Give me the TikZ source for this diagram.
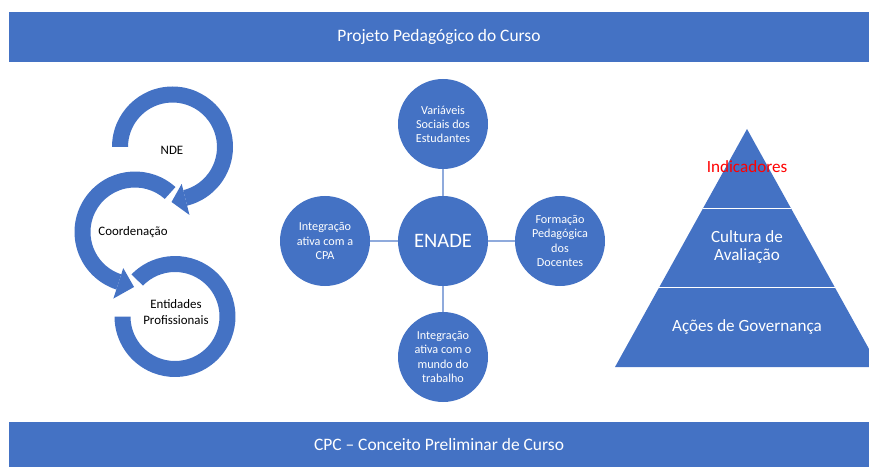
\documentclass[tikz,border=0pt]{standalone}
\usepackage{fontspec}
\setmainfont{Carlito}
\usepackage{tikz}
\usetikzlibrary{calc}
\definecolor{officeblue}{HTML}{4472C4}
\definecolor{linkblue}{HTML}{8FAADC}
\newcommand{\ringband}[3]{ \fill[officeblue] ($(#1)+(#2:60.5)$) arc[start angle=#2, end angle=#3, radius=60.5] -- ($(#1)+(#3:44.5)$) arc[start angle=#3, end angle=#2, radius=44.5] -- cycle;}
\newcommand{\ringhead}[3]{ \fill[officeblue] ($(#1)+(#2:38)$) -- ($(#1)+(#3:55)$) -- ($(#1)+(#2:70)$) -- cycle;}

\begin{document}
\begin{tikzpicture}[x=0.03cm,y=0.03cm,
        banner/.style={fill=officeblue, text=white, minimum width=25.8cm, font=\fontsize{14.9}{17}\selectfont},
        bubble/.style={circle, fill=officeblue, text=white, minimum size=2.7cm, inner sep=0pt, align=center, font=\fontsize{10.4}{12}\selectfont},
        ringtext/.style={align=center, font=\fontsize{11}{13.5}\selectfont},
        pyrtext/.style={align=center, text=white, font=\fontsize{14.6}{15.5}\selectfont},
        link/.style={linkblue, line width=1.2pt}]
        \useasboundingbox (0,0) rectangle (869,467);
        \clip (0,0) rectangle (869,467);

        % banners
        \node[banner, minimum height=1.5cm] (ppc) at (439,430) {Projeto Pedagógico do Curso};
        \node[banner, minimum height=1.35cm] (cpc) at (439,22.5) {CPC -- Conceito Preliminar de Curso};

        % circular arrows
        \coordinate (ndeC) at (172.5,320);
        \coordinate (coordC) at (135,235);
        \coordinate (entC) at (175,150.5);
        \ringband{ndeC}{180}{-76}
        \ringhead{ndeC}{-76}{-91}
        \ringband{coordC}{48}{252}
        \ringhead{coordC}{252}{269}
        \ringband{entC}{136}{-180}
        \node[ringtext] (nde) at (172,317) {NDE};
        \node[ringtext] (coord) at (133,235) {Coordenação};
        \node[ringtext] (ent) at (176,155) {Entidades\\Profissionais};

        % ENADE
        \node[bubble, font=\fontsize{17.5}{20}\selectfont] (enade) at (443,226) {ENADE};
        \node[bubble] (var) at (443,343) {Variáveis\\Sociais dos\\Estudantes};
        \node[bubble] (cpa) at (325,226) {Integração\\ativa com a\\CPA};
        \node[bubble] (form) at (560,226) {Formação\\Pedagógica\\dos\\Docentes};
        \node[bubble] (mundo) at (443,110) {Integração\\ativa com o\\mundo do\\trabalho};
        \draw[link] (enade) -- (var);
        \draw[link] (enade) -- (cpa);
        \draw[link] (enade) -- (form);
        \draw[link] (enade) -- (mundo);

        % pyramid
        \fill[officeblue] (747,338) -- (615,100) -- (879,100) -- cycle;
        \draw[white, line width=0.8pt] (703.2,259) -- (790.8,259);
        \draw[white, line width=0.8pt] (659.4,180) -- (834.6,180);
        \node[pyrtext, text=red] (ind) at (747,300) {Indicadores};
        \node[pyrtext] (cult) at (747,220) {Cultura de\\Avaliação};
        \node[pyrtext] (gov) at (747,140) {Ações de Governança};
\end{tikzpicture}
\end{document}
